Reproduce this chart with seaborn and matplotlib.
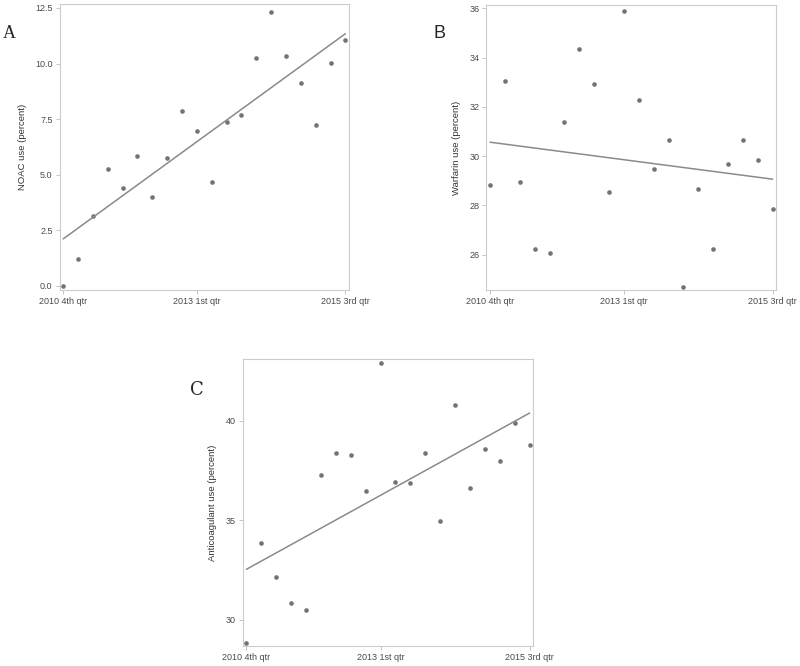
import numpy as np
import pandas as pd
import matplotlib
matplotlib.use("Agg")
import matplotlib.pyplot as plt
import seaborn as sns

# quarters 2010 Q4 .. 2015 Q3 (20 quarters)
quarter_idx = list(range(20))
tick_pos = [0, 9, 19]
tick_labels = ["2010 4th qtr", "2013 1st qtr", "2015 3rd qtr"]

noac = [0.00, 1.20, 3.16, 5.25, 4.39, 5.86, 4.00, 5.77, 7.87, 6.97,
        4.66, 7.37, 7.69, 10.24, 12.33, 10.36, 9.14, 7.25, 10.03, 11.08]
warfarin = [28.84, 33.06, 28.96, 26.22, 26.08, 31.37, 34.34, 32.93, 28.56, 35.91,
            32.27, 29.48, 30.67, 24.70, 28.68, 26.24, 29.69, 30.67, 29.83, 27.85]
anticoag = [28.86, 33.89, 32.16, 30.84, 30.50, 37.27, 38.38, 38.31, 36.47, 42.90,
            36.95, 36.90, 38.38, 34.97, 40.80, 36.63, 38.61, 37.97, 39.90, 38.78]

df = pd.DataFrame({"q": quarter_idx, "noac": noac, "warfarin": warfarin,
                   "anticoag": anticoag})

sns.set_style("white")
plt.rcParams["font.family"] = ["Liberation Sans", "DejaVu Sans"]

fig = plt.figure(figsize=(8, 6.66), dpi=100)

panels = [
    # column, ylabel, ylim, yticks, fmt, axes rect
    ("noac", "NOAC use (percent)", (-0.18, 12.68), [0, 2.5, 5, 7.5, 10, 12.5], "{:.1f}",
     [0.0744, 0.5646, 0.362, 0.4294]),
    ("warfarin", "Warfarin use (percent)", (24.57, 36.14), [26, 28, 30, 32, 34, 36], "{:.0f}",
     [0.608, 0.5646, 0.3625, 0.428]),
    ("anticoag", "Anticoagulant use (percent)", (28.69, 43.10), [30, 35, 40], "{:.0f}",
     [0.3034, 0.030, 0.3633, 0.4305]),
]

for col, ylab, ylim, yticks, fmt, rect in panels:
    ax = fig.add_axes(rect)
    sns.regplot(data=df, x="q", y=col, ci=None, ax=ax,
                scatter_kws=dict(s=11, color="#505050", linewidths=0),
                line_kws=dict(color="#8a8a8a", linewidth=1.1))
    ax.set_xlim(-0.25, 19.25)
    ax.set_ylim(*ylim)
    ax.set_xticks(tick_pos)
    ax.set_xticklabels(tick_labels)
    ax.set_yticks(yticks)
    ax.set_yticklabels([fmt.format(v) for v in yticks])
    ax.set_xlabel("")
    ax.set_ylabel(ylab, fontsize=6.8, color="#333333", labelpad=6)
    ax.tick_params(axis="both", which="both", length=3, width=0.6, color="#bbbbbb",
                   labelsize=6.5, labelcolor="#4a4a4a", pad=2, bottom=True, left=True)
    for sp in ax.spines.values():
        sp.set_color("#cccccc")
        sp.set_linewidth(0.8)

# panel letters
fig.text(0.004, 0.949, "A", fontsize=13, family=["Liberation Serif", "DejaVu Serif"],
         va="center", ha="left")
fig.text(0.542, 0.950, "B", fontsize=13, family=["Liberation Sans", "DejaVu Sans"],
         va="center", ha="left")
fig.text(0.238, 0.414, "C", fontsize=13, family=["DejaVu Serif"],
         va="center", ha="left")

fig.savefig("out.png", dpi=100)
